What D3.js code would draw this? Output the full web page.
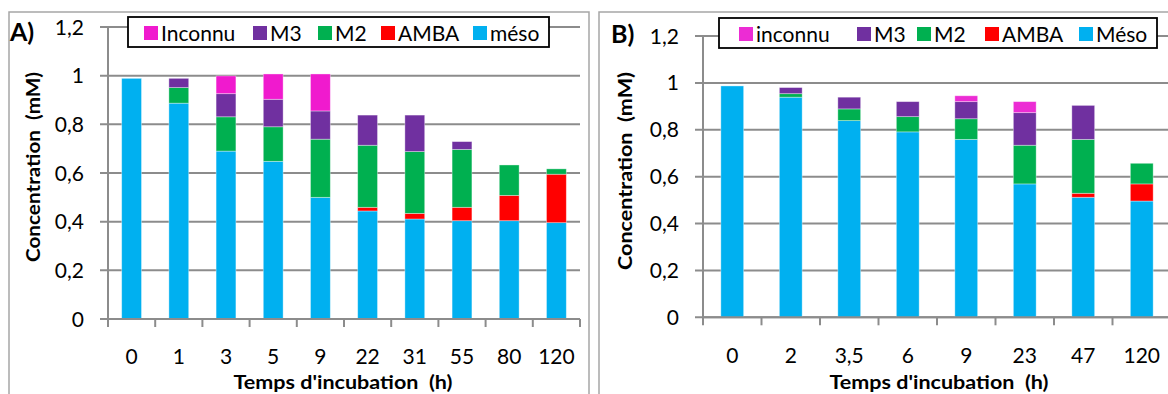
<!DOCTYPE html>
<html><head><meta charset="utf-8">
<script src="https://cdn.jsdelivr.net/npm/d3@7"></script>
<style>body{margin:0;background:#fff}svg{display:block}text{font-family:Lato,"Open Sans",sans-serif}</style>
</head><body><svg id="c" width="1168" height="394"></svg>
<script>
// Panel A data
const catsA = ["0","1","3","5","9","22","31","55","80","120"];
const mesoA    = [0.989,0.887,0.690,0.648,0.500,0.444,0.411,0.404,0.404,0.396];
const ambaA    = [0,0,0,0,0,0.015,0.023,0.055,0.104,0.199];
const m2A      = [0,0.064,0.141,0.142,0.239,0.255,0.254,0.238,0.125,0.022];
const m3A      = [0,0.038,0.095,0.113,0.116,0.124,0.150,0.032,0,0];
const inconnuA = [0,0,0.073,0.104,0.152,0,0,0,0,0];
const legendA  = ["Inconnu","M3","M2","AMBA","méso"];
// Panel B data
const catsB = ["0","2","3,5","6","9","23","47","120"];
const mesoB    = [0.987,0.939,0.839,0.791,0.759,0.569,0.512,0.496];
const ambaB    = [0,0,0,0,0,0,0.017,0.073];
const m2B      = [0,0.015,0.050,0.065,0.088,0.165,0.230,0.088];
const m3B      = [0,0.026,0.050,0.064,0.073,0.139,0.145,0];
const inconnuB = [0,0,0,0,0.025,0.047,0,0];
const legendB  = ["inconnu","M3","M2","AMBA","Méso"];
const yTicks = [0,0.2,0.4,0.6,0.8,1,1.2];
const xTitle = "Temps d'incubation\u00a0 (h)";
const yTitle = "Concentration\u00a0 (mM)";

const keys = ["meso","amba","m2","m3","inconnu"];
const svg = d3.select("#c");
const fmt = d => String(d).replace(".", ",");

function panel(o){
  const g = svg.append("g");
  g.append("rect").attr("x",o.frame[0]).attr("y",o.frame[1]).attr("width",o.frame[2]).attr("height",o.frame[3])
    .attr("fill","none").attr("stroke","#a6a6a6").attr("stroke-width",1.5);
  const x = d3.scaleBand().domain(o.cats).range([o.x0,o.x1]).paddingInner(o.pad).paddingOuter(o.pad/2);
  const y = d3.scaleLinear().domain([0,1.2]).range([o.y0,o.y1]);
  g.append("g").selectAll("line").data(yTicks).join("line")
    .attr("x1",o.x0-8).attr("x2",o.x1).attr("y1",d=>y(d)).attr("y2",d=>y(d))
    .attr("stroke","#8c8c8c").attr("stroke-width",2);
  g.append("g").selectAll("text").data(yTicks).join("text")
    .attr("x",o.x0-24).attr("y",d=>y(d)).attr("dy","0.36em").attr("text-anchor","end")
    .attr("font-size",21).attr("fill","#000").text(fmt);
  const rows = o.cats.map((c,i)=>({cat:c, meso:o.data[0][i], amba:o.data[1][i], m2:o.data[2][i], m3:o.data[3][i], inconnu:o.data[4][i]}));
  const stack = d3.stack().keys(keys)(rows);
  const colors = {meso:"#00b0f0",amba:"#ff0000",m2:"#00b050",m3:"#7030a0",inconnu:o.incColor};
  stack.forEach(layer=>{
    g.append("g").selectAll("rect").data(layer.filter(d=>d[1]-d[0]>0)).join("rect")
      .attr("x",d=>x(d.data.cat)).attr("width",x.bandwidth())
      .attr("y",d=>y(d[1])).attr("height",d=>y(d[0])-y(d[1]))
      .attr("fill",colors[layer.key]).attr("stroke","#ffffff").attr("stroke-opacity",0.45).attr("stroke-width",0.8);
  });
  const step = x.step();
  g.append("line").attr("x1",o.x0).attr("x2",o.x1).attr("y1",y(0)).attr("y2",y(0)).attr("stroke","#8c8c8c").attr("stroke-width",2);
  g.append("line").attr("x1",o.x0).attr("x2",o.x0).attr("y1",y(1.2)).attr("y2",y(0)).attr("stroke","#8c8c8c").attr("stroke-width",2);
  const tickPos = d3.range(o.cats.length+1).map(i=>o.x0+i*step);
  g.append("g").selectAll("line").data(tickPos).join("line")
    .attr("x1",d=>d).attr("x2",d=>d).attr("y1",y(0)).attr("y2",y(0)+8).attr("stroke","#8c8c8c").attr("stroke-width",2);
  g.append("g").selectAll("text").data(o.cats).join("text")
    .attr("x",d=>x(d)+x.bandwidth()/2).attr("y",o.labY).attr("text-anchor","middle")
    .attr("font-size",21).attr("fill","#000").text(d=>d);
  g.append("text").attr("x",o.xtX).attr("y",o.xtY).attr("text-anchor","middle").attr("font-weight","bold")
    .attr("font-size",18).attr("textLength",219).attr("lengthAdjust","spacingAndGlyphs").text(xTitle);
  g.append("text").attr("transform",`translate(${o.ytX},${o.ytY}) rotate(-90)`).attr("text-anchor","middle").attr("font-weight","bold")
    .attr("font-size",18).attr("textLength",o.ytLen).attr("lengthAdjust","spacingAndGlyphs").text(yTitle);
  g.append("text").attr("x",o.lab[0]).attr("y",o.lab[1]).attr("font-weight","bold").attr("font-size",25).text(o.label);
  g.append("rect").attr("x",o.leg[0]).attr("y",o.leg[1]).attr("width",o.leg[2]).attr("height",o.leg[3])
    .attr("fill","#fff").attr("stroke","#000").attr("stroke-width",1.8);
  const lc = [o.incColor,"#7030a0","#00b050","#ff0000","#00b0f0"];
  o.legNames.forEach((n,i)=>{
    g.append("rect").attr("x",o.legX[i]).attr("y",o.leg[1]+9).attr("width",14).attr("height",14).attr("fill",lc[i]);
    g.append("text").attr("x",o.legX[i]+17).attr("y",o.leg[1]+16).attr("dy","0.36em").attr("font-size",21).text(n);
  });
}

panel({cats:catsA, data:[mesoA,ambaA,m2A,m3A,inconnuA], x0:108, x1:580, y0:319, y1:27, pad:0.58,
  frame:[9,12,580,400], labY:364, xtX:343, xtY:389, ytX:40, ytY:167, ytLen:190, lab:[10,41], label:"A)",
  leg:[128,17,421,30], legX:[144,253,318,381,473], legNames:legendA, incColor:"#f01ace"});
panel({cats:catsB, data:[mesoB,ambaB,m2B,m3B,inconnuB], x0:703, x1:1171, y0:317.3, y1:36, pad:0.61,
  frame:[599,12,600,400], labY:363, xtX:939, xtY:389, ytX:632, ytY:171, ytLen:198, lab:[611,43], label:"B)",
  leg:[719,18,438,30], legX:[739,857,917,985,1079], legNames:legendB, incColor:"#ec2cd4"});
</script></body></html>
